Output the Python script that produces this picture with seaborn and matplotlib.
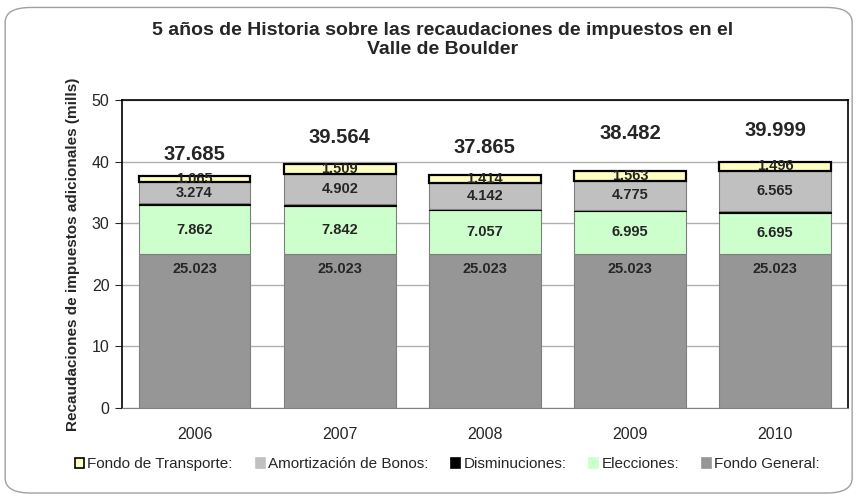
import numpy as np
import pandas as pd
import matplotlib.pyplot as plt
import seaborn as sns
from matplotlib.patches import FancyBboxPatch, Patch

# data
years = ["2006", "2007", "2008", "2009", "2010"]
fondo_general = [25.023, 25.023, 25.023, 25.023, 25.023]
elecciones = [7.862, 7.842, 7.057, 6.995, 6.695]
disminuciones = [0.461, 0.288, 0.229, 0.126, 0.220]
amortizacion = [3.274, 4.902, 4.142, 4.775, 6.565]
transporte = [1.065, 1.509, 1.414, 1.563, 1.496]
totales = [37.685, 39.564, 37.865, 38.482, 39.999]

# name, values, fill, edge, edge width, label anchor within segment (None = no label)
series = [
    ("Fondo General:", fondo_general, "#969696", "#7f7f7f", 0.8, 0.9),
    ("Elecciones:", elecciones, "#CCFFCC", "#7f7f7f", 0.8, 0.5),
    ("Disminuciones:", disminuciones, "#000000", "#000000", 0.8, None),
    ("Amortización de Bonos:", amortizacion, "#C0C0C0", "#7f7f7f", 0.8, 0.5),
    ("Fondo de Transporte:", transporte, "#FFFFC0", "#000000", 1.6, 0.5),
]

sns.set_style("white")
plt.rcParams['font.family'] = ['Liberation Sans', 'DejaVu Sans']

fig = plt.figure(figsize=(8.59, 4.98), dpi=100)
ax = fig.add_axes([0.142, 0.181, 0.845, 0.618])

# rounded outer frame
fig.patches.append(FancyBboxPatch((0.006, 0.01), 0.986, 0.975,
                                  boxstyle="round,pad=0,rounding_size=0.03",
                                  transform=fig.transFigure, fill=False,
                                  edgecolor="#a0a0a0", linewidth=1.0))

bottom = np.zeros(len(years))
for name, vals, color, edge, lw, anchor in series:
    vals = np.array(vals)
    df = pd.DataFrame({"year": years, "value": vals})
    sns.barplot(data=df, x="year", y="value", color=color, edgecolor=edge,
                linewidth=lw, width=0.77, bottom=bottom, saturation=1,
                errorbar=None, ax=ax, zorder=3)
    if anchor is not None:
        for i, v in enumerate(vals):
            ax.text(i, bottom[i] + v * anchor, f"{v:.3f}", ha="center", va="center",
                    fontsize=10.5, fontweight="bold", zorder=5)
    bottom = bottom + vals

label_lift = [3.4, 4.4, 4.5, 6.1, 5.0]
for i, t in enumerate(totales):
    ax.text(i, t + label_lift[i], f"{t:.3f}", ha="center", va="center",
            fontsize=14.5, fontweight="bold", zorder=5)

ax.set_ylim(0, 50)
ax.set_xlim(-0.5, 4.5)
ax.set_yticks(range(0, 51, 10))
ax.yaxis.grid(True, color="#b0b0b0", linewidth=1.0, zorder=0)
ax.set_axisbelow(True)
for s in ax.spines.values():
    s.set_color("black")
    s.set_linewidth(1.2)
ax.spines["bottom"].set_color("#808080")
ax.spines["bottom"].set_linewidth(0.8)
ax.tick_params(axis="y", length=5, width=0.8, direction="out", left=True, labelsize=11.5, pad=4)
ax.tick_params(axis="x", length=0, labelsize=11.5, pad=14)
ax.set_xlabel("")
ax.set_ylabel("Recaudaciones de impuestos adicionales (mills)", fontsize=11,
              fontweight="bold", labelpad=8)

fig.suptitle("5 años de Historia sobre las recaudaciones de impuestos en el\nValle de Boulder",
             x=0.515, y=0.955, fontsize=14, fontweight="bold", linespacing=1.1)

handles = [Patch(facecolor=c, edgecolor=("black" if n.startswith("Fondo de T") else c), linewidth=1.2)
           for n, v, c, e, lw, a in reversed(series)]
labels = [n for n, v, c, e, lw, a in reversed(series)]
fig.legend(handles, labels, loc="center", bbox_to_anchor=(0.521, 0.068), ncol=5,
           frameon=False, fontsize=11, handlelength=0.6, handleheight=0.6,
           handletextpad=0.2, columnspacing=1.5)

fig.savefig("out.png", dpi=100)
